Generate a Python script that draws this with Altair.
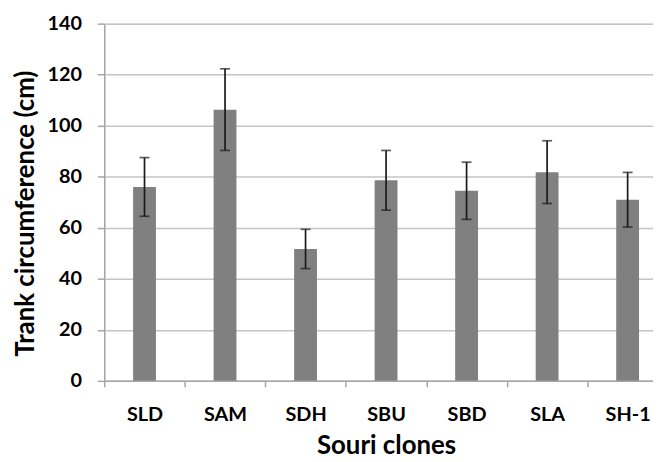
import altair as alt
import pandas as pd

clones = ["SLD", "SAM", "SDH", "SBU", "SBD", "SLA", "SH-1"]
means = [76.0, 106.3, 51.7, 78.6, 74.5, 81.8, 71.0]
errors = [11.5, 16.0, 7.7, 11.7, 11.2, 12.3, 10.7]

df = pd.DataFrame({"clone": clones, "mean": means, "err": errors})
df["lo"] = df["mean"] - df["err"]
df["hi"] = df["mean"] + df["err"]

FONT = "Lato"

x_enc = alt.X(
    "clone:N",
    sort=clones,
    title="Souri clones",
    scale=alt.Scale(range=[0, 568], paddingInner=0, paddingOuter=0),
    axis=alt.Axis(
        labelAngle=0,
        labelFont=FONT,
        labelFontSize=20,
        labelFontWeight="bold",
        labelColor="#000000",
        labelPadding=18,
        tickSize=6,
        tickColor="#a6a6a6",
        tickWidth=1.5,
        tickBand="extent",
        domainColor="#a6a6a6",
        domainWidth=1.5,
        grid=False,
        titleFont=FONT,
        titleFontSize=26,
        titleFontWeight="bold",
        titleColor="#000000",
        titlePadding=8,
    ),
)

y_scale = alt.Scale(domain=[0, 140], nice=False)

bars = alt.Chart(df).mark_bar(color="#808080", size=23).encode(
    x=x_enc,
    y=alt.Y(
        "mean:Q",
        scale=y_scale,
        title="Trank circumference (cm)",
        axis=alt.Axis(
            values=[0, 20, 40, 60, 80, 100, 120, 140],
            labelFont=FONT,
            labelFontSize=20,
            labelFontWeight="bold",
            labelColor="#000000",
            labelPadding=16,
            tickSize=7,
            tickColor="#a6a6a6",
            tickWidth=1.5,
            domainColor="#a6a6a6",
            domainWidth=1.5,
            gridColor="#c4c4c4",
            gridWidth=1.5,
            titleFont=FONT,
            titleFontSize=26,
            titleFontWeight="bold",
            titleColor="#000000",
            titlePadding=8,
            titleY=191,
        ),
    ),
)

rules = alt.Chart(df).mark_rule(color="#1a1a1a", strokeWidth=1.7).encode(
    x=alt.X("clone:N", sort=clones),
    y=alt.Y("lo:Q", scale=y_scale),
    y2="hi:Q",
)

caps_hi = alt.Chart(df).mark_tick(color="#1a1a1a", size=10, thickness=1.7, orient="horizontal").encode(
    x=alt.X("clone:N", sort=clones),
    y=alt.Y("hi:Q", scale=y_scale),
)
caps_lo = alt.Chart(df).mark_tick(color="#1a1a1a", size=10, thickness=1.7, orient="horizontal").encode(
    x=alt.X("clone:N", sort=clones),
    y=alt.Y("lo:Q", scale=y_scale),
)

chart = (
    alt.layer(bars, rules, caps_hi, caps_lo)
    .properties(
        width=553,
        height=360,
        autosize=alt.AutoSizeParams(type="none"),
        padding={"left": 97, "top": 14, "right": 0, "bottom": 80},
    )
    .configure_view(stroke=None)
    .configure(background="white")
)

chart.save("out.html", embed_options={"renderer": "svg", "actions": False})
